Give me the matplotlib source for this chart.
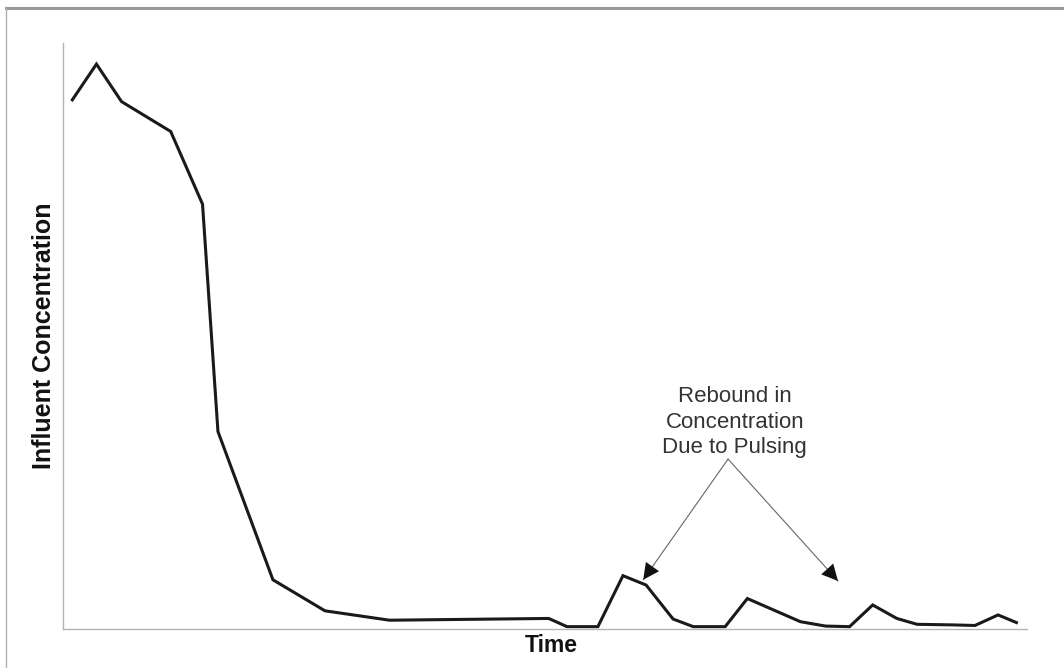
import matplotlib
matplotlib.use("Agg")
import matplotlib.pyplot as plt
from matplotlib.lines import Line2D

# Data (arbitrary time units / relative concentration)
time = [1.0, 3.5, 6.1, 11.2, 14.5, 16.1, 21.8, 27.2, 33.9, 50.4, 52.3, 55.5,
        58.1, 60.5, 63.3, 65.4, 68.7, 71.0, 76.5, 79.1, 81.6, 84.0, 86.5,
        88.6, 92.3, 94.6, 97.0, 98.9]
concentration = [90.3, 96.4, 90.0, 84.9, 72.5, 33.7, 8.4, 3.1, 1.5, 1.8, 0.4, 0.4,
                 9.1, 7.5, 1.7, 0.4, 0.4, 5.2, 1.25, 0.5, 0.4, 4.1, 1.8,
                 0.8, 0.7, 0.6, 2.4, 1.1]
x_label = "Time"
y_label = "Influent Concentration"
note_text = "Rebound in\nConcentration\nDue to Pulsing"
note_pos = (69.7, 41.4)
arrow_tails = (69.0, 29.0)
arrow_tips = [(60.2, 8.4), (80.4, 8.2)]

W, H = 1064, 668
fig = plt.figure(figsize=(W / 100, H / 100), dpi=100)
fig.patch.set_facecolor("white")

ax = fig.add_axes([62.7 / W, (H - 629) / H, (1027 - 62.7) / W, (629 - 43) / H])
ax.plot(time, concentration, color="#1a1a1a", lw=2.2, solid_joinstyle="miter")
ax.set_xlim(0, 100)
ax.set_ylim(0, 100)
ax.set_xticks([])
ax.set_yticks([])
for s in ["top", "right"]:
    ax.spines[s].set_visible(False)
for s in ["left", "bottom"]:
    ax.spines[s].set_color("#b4b4b4")
    ax.spines[s].set_linewidth(1.0)

fam = ["Liberation Sans", "DejaVu Sans"]
fig.text(44 / W, 1 - 336 / H, y_label, rotation=90, ha="center", va="center",
         fontsize=18, fontweight="bold", family=fam, color="#111111")
fig.text(551.5 / W, 1 - 645 / H, x_label, ha="center", va="center",
         fontsize=16.5, fontweight="bold", family=fam, color="#111111")

ax.text(note_pos[0], note_pos[1], note_text, ha="center", va="top",
        fontsize=16, family=fam, color="#333333", linespacing=1.27)
for tip in arrow_tips:
    # thin gray shaft
    ax.plot([arrow_tails[0], tip[0]], [arrow_tails[1], tip[1]],
            color="#666666", lw=0.8)
    # solid black head
    ax.annotate("", xy=tip, xytext=arrow_tails,
                arrowprops=dict(arrowstyle="-|>", facecolor="#111111",
                                edgecolor="#111111", lw=0.0,
                                mutation_scale=29, shrinkA=0, shrinkB=0))

# Outer frame (top and left)
fig.add_artist(Line2D([6 / W, 1.0], [1 - 7.8 / H, 1 - 7.8 / H],
                      transform=fig.transFigure, color="#999999", lw=2.2))
fig.add_artist(Line2D([6 / W, 6 / W], [0, 1 - 7.8 / H],
                      transform=fig.transFigure, color="#b0b0b0", lw=1.0))

fig.savefig("out.png", dpi=100, facecolor="white")
